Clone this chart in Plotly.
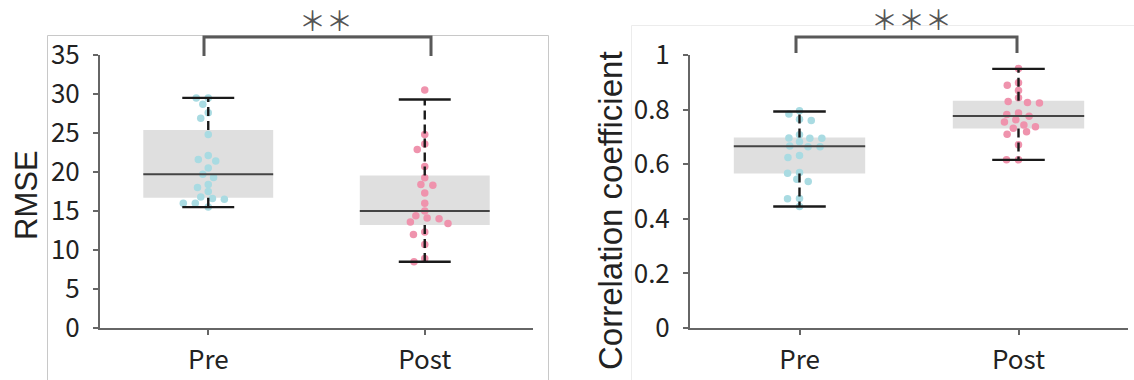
import numpy as np
import plotly.graph_objects as go

W, H = 1134, 380

groups = ["Pre", "Post"]
group_pos = [1, 2]

# RMSE values per subject
rmse_pre = [29.5, 29.5, 28.7, 27.6, 26.9, 24.8, 22.1, 21.6, 21.4, 20.5, 19.7,
            19.3, 18.4, 18.0, 17.5, 16.8, 16.6, 16.5, 16.0, 16.0, 15.5]
rmse_post = [30.5, 24.8, 23.6, 22.9, 20.7, 19.25, 18.4, 18.3, 17.3, 16.0, 15.0,
             14.4, 14.1, 14.0, 13.6, 13.4, 12.3, 12.0, 10.7, 8.9, 8.5]

# Correlation coefficient per subject
corr_pre = [0.796, 0.784, 0.765, 0.760, 0.708, 0.696, 0.695, 0.695, 0.682, 0.667, 0.664,
            0.664, 0.632, 0.625, 0.570, 0.567, 0.545, 0.537, 0.474, 0.473, 0.445]
corr_post = [0.951, 0.898, 0.889, 0.870, 0.843, 0.830, 0.826, 0.824, 0.788, 0.782, 0.776,
             0.763, 0.755, 0.744, 0.737, 0.732, 0.719, 0.710, 0.671, 0.616, 0.616]

# Box statistics [Pre, Post]
rmse_q1 = [16.7, 13.2]
rmse_med = [19.7, 15.0]
rmse_q3 = [25.4, 19.55]
rmse_wlo = [15.5, 8.5]
rmse_whi = [29.5, 29.3]

corr_q1 = [0.566, 0.731]
corr_med = [0.666, 0.777]
corr_q3 = [0.698, 0.832]
corr_wlo = [0.445, 0.616]
corr_whi = [0.793, 0.949]

rmse_ticks = [0, 5, 10, 15, 20, 25, 30, 35]
corr_ticks = [0, 0.2, 0.4, 0.6, 0.8, 1]
sig_labels = ["＊＊", "＊＊＊"]

# ---- styling ----
PT_COLORS = ["#a9dbe2", "#ef93ad"]
BOX_FILL = "#dfdfdf"
AX_COLOR = "#666666"
TXT = "#222222"
TICK_FONT = dict(family="Noto Sans CJK JP", size=26, color=TXT)
BOX_HW = 0.3
CAP_HW = 0.12


def swarm(vals, ppu_y, ppu_x, a=12.0, b=7.0):
    """Greedy beeswarm in pixel space with an elliptical collision zone."""
    placed = []
    out = []
    for v in vals:
        y = v * ppu_y
        cands = [0.0]
        for (px, py) in placed:
            dy = abs(py - y)
            if dy < b:
                dx = a * np.sqrt(1 - (dy / b) ** 2)
                cands += [px + dx, px - dx]
        cands.sort(key=lambda c: (round(abs(c), 6), c))
        chosen = 0.0
        for c in cands:
            if all(((c - px) / a) ** 2 + ((y - py) / b) ** 2 >= 1 - 1e-6 for px, py in placed):
                chosen = c
                break
        placed.append((chosen, y))
        out.append(chosen / ppu_x)
    return out


fig = go.Figure()


def add_panel(xa, ya, data, q1, med, q3, wlo, whi, ppu_y, ppu_x):
    # boxes
    for i, p in enumerate(group_pos):
        fig.add_trace(go.Scatter(
            x=[p - BOX_HW, p + BOX_HW, p + BOX_HW, p - BOX_HW, p - BOX_HW],
            y=[q1[i], q1[i], q3[i], q3[i], q1[i]],
            fill="toself", fillcolor=BOX_FILL, mode="lines", line=dict(width=0),
            xaxis=xa, yaxis=ya, hoverinfo="skip"))
    # points
    for i, p in enumerate(group_pos):
        offs = swarm(data[i], ppu_y, ppu_x)
        fig.add_trace(go.Scatter(
            x=[p + o for o in offs], y=data[i], mode="markers",
            marker=dict(size=7.5, color=PT_COLORS[i], line=dict(width=0)),
            xaxis=xa, yaxis=ya))
    # whiskers (dashed)
    wx, wy = [], []
    for i, p in enumerate(group_pos):
        wx += [p, p, None, p, p, None]
        wy += [q3[i], whi[i], None, q1[i], wlo[i], None]
    fig.add_trace(go.Scatter(x=wx, y=wy, mode="lines",
                             line=dict(color="#1a1a1a", width=2.4, dash="9px,5px"),
                             xaxis=xa, yaxis=ya, hoverinfo="skip"))
    # caps
    cx, cy = [], []
    for i, p in enumerate(group_pos):
        cx += [p - CAP_HW, p + CAP_HW, None, p - CAP_HW, p + CAP_HW, None]
        cy += [whi[i], whi[i], None, wlo[i], wlo[i], None]
    fig.add_trace(go.Scatter(x=cx, y=cy, mode="lines",
                             line=dict(color="#1a1a1a", width=2.4),
                             xaxis=xa, yaxis=ya, hoverinfo="skip"))
    # medians
    mx, my = [], []
    for i, p in enumerate(group_pos):
        mx += [p - BOX_HW, p + BOX_HW, None]
        my += [med[i], med[i], None]
    fig.add_trace(go.Scatter(x=mx, y=my, mode="lines",
                             line=dict(color="#444444", width=2),
                             xaxis=xa, yaxis=ya, hoverinfo="skip"))


add_panel("x", "y", [rmse_pre, rmse_post], rmse_q1, rmse_med, rmse_q3, rmse_wlo, rmse_whi,
          273 / 35, 216.5)
add_panel("x2", "y2", [corr_pre, corr_post], corr_q1, corr_med, corr_q3, corr_wlo, corr_whi,
          273.0, 219.0)

ydom = [1 - 328 / H, 1 - 55 / H]
axis_common = dict(showline=True, linecolor=AX_COLOR, linewidth=2, ticks="outside",
                   ticklen=5, tickwidth=2, tickcolor=AX_COLOR, tickfont=TICK_FONT,
                   showgrid=False, zeroline=False, fixedrange=True, automargin=False)

fig.update_layout(
    template="none",
    width=W, height=H, margin=dict(l=0, r=0, t=0, b=0, pad=0, autoexpand=False),
    paper_bgcolor="white", plot_bgcolor="white", showlegend=False,
    xaxis=dict(domain=[100 / W, 533 / W], range=[0.5, 2.5], tickvals=group_pos,
               ticktext=groups, anchor="y", ticklabelstandoff=3, **axis_common),
    yaxis=dict(domain=ydom, range=[0, 35], tickvals=rmse_ticks, anchor="x",
               ticklabelstandoff=8, **axis_common),
    xaxis2=dict(domain=[690 / W, 1128 / W], range=[0.5, 2.5], tickvals=group_pos,
                ticktext=groups, anchor="y2", ticklabelstandoff=3, **axis_common),
    yaxis2=dict(domain=ydom, range=[0, 1], tickvals=corr_ticks, anchor="x2",
                ticklabelstandoff=8, **axis_common),
)


def px(x):
    return x / W


def py(y):
    return 1 - y / H


shapes = [
    # panel frames
    dict(type="rect", xref="paper", yref="paper", x0=px(47.5), x1=px(548.5),
         y0=py(395), y1=py(35.5), line=dict(color="#c8c8c8", width=1), fillcolor="rgba(0,0,0,0)",
         layer="below"),
    dict(type="rect", xref="paper", yref="paper", x0=px(631.5), x1=px(1150),
         y0=py(395), y1=py(25.5), line=dict(color="#ececec", width=1), fillcolor="rgba(0,0,0,0)",
         layer="below"),
    # significance brackets
    dict(type="path", xref="paper", yref="paper",
         path=f"M {px(204)},{py(56)} L {px(204)},{py(37)} L {px(431)},{py(37)} L {px(431)},{py(56)}",
         line=dict(color="#595959", width=3)),
    dict(type="path", xref="paper", yref="paper",
         path=f"M {px(796)},{py(53)} L {px(796)},{py(37)} L {px(1017)},{py(37)} L {px(1017)},{py(53)}",
         line=dict(color="#595959", width=3)),
]
fig.update_layout(shapes=shapes)

annotations = [
    dict(text="RMSE", x=px(26), y=py(195), xref="paper", yref="paper", textangle=-90,
         showarrow=False, font=dict(family="Liberation Sans", size=31, color=TXT),
         xanchor="center", yanchor="middle"),
    dict(text="Correlation coefficient", x=px(611), y=py(211), xref="paper", yref="paper",
         textangle=-90, showarrow=False,
         font=dict(family="Liberation Sans", size=33, color=TXT),
         xanchor="center", yanchor="middle"),
    dict(text=sig_labels[0], x=px(326), y=py(20), xref="paper", yref="paper",
         showarrow=False, font=dict(family="Noto Sans CJK JP", size=27, color="#555555"),
         xanchor="center", yanchor="middle"),
    dict(text=sig_labels[1], x=px(911), y=py(18), xref="paper", yref="paper",
         showarrow=False, font=dict(family="Noto Sans CJK JP", size=27, color="#555555"),
         xanchor="center", yanchor="middle"),
]
fig.update_layout(annotations=annotations)

fig.write_html("out.html")
